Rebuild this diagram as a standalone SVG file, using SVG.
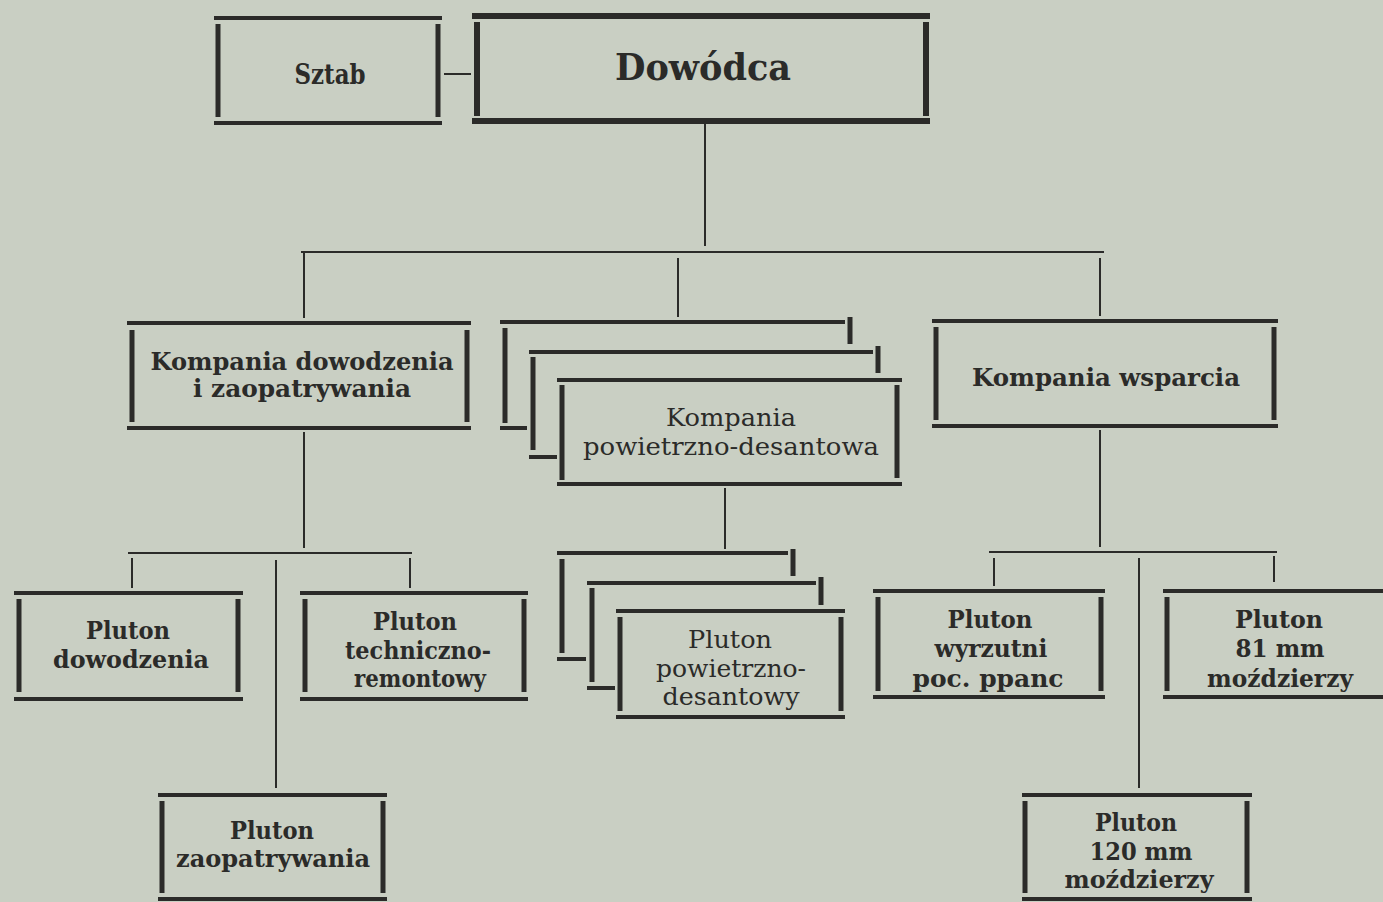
<svg xmlns="http://www.w3.org/2000/svg" width="1383" height="902" viewBox="0 0 1383 902">
<style>
.bg{fill:#c9cfc3}
line{stroke:#2b2b29;stroke-linecap:butt}
.h{stroke-width:4}
.v{stroke-width:5}
.hh{stroke-width:6}
.c{stroke-width:2}
text{font-family:"DejaVu Serif","Liberation Serif",serif;fill:#2b2b29;text-anchor:middle}
.b{font-weight:bold;font-size:24px}
.r{font-weight:normal;font-size:25px}
</style>
<rect class="bg" x="0" y="0" width="1383" height="902"/>
<g id="connectors">
<line class="c" x1="444" y1="74" x2="471" y2="74"/>
<line class="c" x1="705" y1="124" x2="705" y2="246"/>
<line class="c" x1="301" y1="252" x2="1104" y2="252"/>
<line class="c" x1="304" y1="252" x2="304" y2="318"/>
<line class="c" x1="678" y1="258" x2="678" y2="317"/>
<line class="c" x1="1100" y1="258" x2="1100" y2="316"/>
<line class="c" x1="304" y1="432" x2="304" y2="548"/>
<line class="c" x1="128" y1="553" x2="412" y2="553"/>
<line class="c" x1="132" y1="558" x2="132" y2="588"/>
<line class="c" x1="410" y1="558" x2="410" y2="588"/>
<line class="c" x1="276" y1="560" x2="276" y2="788"/>
<line class="c" x1="725" y1="488" x2="725" y2="549"/>
<line class="c" x1="1100" y1="430" x2="1100" y2="547"/>
<line class="c" x1="989" y1="552" x2="1277" y2="552"/>
<line class="c" x1="994" y1="558" x2="994" y2="586"/>
<line class="c" x1="1274" y1="556" x2="1274" y2="582"/>
<line class="c" x1="1139" y1="558" x2="1139" y2="788"/>
</g>
<g id="sztab">
<line class="h" x1="214" y1="18" x2="442" y2="18"/>
<line class="h" x1="214" y1="123" x2="442" y2="123"/>
<line class="v" x1="218" y1="24" x2="218" y2="117"/>
<line class="v" x1="438" y1="24" x2="438" y2="117"/>
<text x="330" y="84" style="font-weight:bold;font-size:27px" textLength="71" lengthAdjust="spacingAndGlyphs">Sztab</text>
</g>
<g id="dowodca">
<line class="hh" x1="472" y1="16" x2="930" y2="16"/>
<line class="hh" x1="472" y1="121" x2="930" y2="121"/>
<line class="hh" x1="477" y1="22" x2="477" y2="116"/>
<line class="hh" x1="926" y1="22" x2="926" y2="116"/>
<text x="703" y="80" style="font-weight:bold;font-size:37px" textLength="176" lengthAdjust="spacingAndGlyphs">Dowódca</text>
</g>
<g id="kompania-dowodzenia">
<line class="h" x1="127" y1="323" x2="471" y2="323"/>
<line class="h" x1="127" y1="428" x2="471" y2="428"/>
<line class="v" x1="132" y1="330" x2="132" y2="422"/>
<line class="v" x1="467" y1="330" x2="467" y2="422"/>
<text class="b" x="302" y="370" textLength="303" lengthAdjust="spacingAndGlyphs">Kompania dowodzenia</text>
<text class="b" x="302" y="397" textLength="218" lengthAdjust="spacingAndGlyphs">i zaopatrywania</text>
</g>
<g id="kompania-pd">
<line class="h" x1="500" y1="322" x2="845" y2="322"/>
<line class="v" x1="850" y1="317" x2="850" y2="344"/>
<line class="v" x1="505" y1="328" x2="505" y2="423"/>
<line class="h" x1="500" y1="428" x2="527" y2="428"/>
<line class="h" x1="529" y1="352" x2="873" y2="352"/>
<line class="v" x1="878" y1="346" x2="878" y2="373"/>
<line class="v" x1="533" y1="357" x2="533" y2="450"/>
<line class="h" x1="529" y1="457" x2="557" y2="457"/>
<line class="h" x1="557" y1="380" x2="902" y2="380"/>
<line class="h" x1="557" y1="484" x2="902" y2="484"/>
<line class="v" x1="562" y1="385" x2="562" y2="480"/>
<line class="v" x1="897" y1="385" x2="897" y2="478"/>
<text class="r" x="731" y="426" textLength="130" lengthAdjust="spacingAndGlyphs">Kompania</text>
<text class="r" x="731" y="455" textLength="296" lengthAdjust="spacingAndGlyphs">powietrzno-desantowa</text>
</g>
<g id="kompania-wsparcia">
<line class="h" x1="932" y1="321" x2="1278" y2="321"/>
<line class="h" x1="932" y1="426" x2="1278" y2="426"/>
<line class="v" x1="936" y1="327" x2="936" y2="420"/>
<line class="v" x1="1274" y1="327" x2="1274" y2="420"/>
<text class="b" x="1106" y="386" textLength="268" lengthAdjust="spacingAndGlyphs">Kompania wsparcia</text>
</g>
<g id="pluton-dowodzenia">
<line class="h" x1="14" y1="593" x2="243" y2="593"/>
<line class="h" x1="14" y1="699" x2="243" y2="699"/>
<line class="v" x1="19" y1="599" x2="19" y2="692"/>
<line class="v" x1="238" y1="599" x2="238" y2="692"/>
<text class="b" x="128" y="639" textLength="84" lengthAdjust="spacingAndGlyphs">Pluton</text>
<text class="b" x="131" y="668" textLength="156" lengthAdjust="spacingAndGlyphs">dowodzenia</text>
</g>
<g id="pluton-techniczno">
<line class="h" x1="300" y1="593" x2="528" y2="593"/>
<line class="h" x1="300" y1="699" x2="528" y2="699"/>
<line class="v" x1="305" y1="599" x2="305" y2="692"/>
<line class="v" x1="524" y1="599" x2="524" y2="692"/>
<text class="b" x="415" y="630" textLength="84" lengthAdjust="spacingAndGlyphs">Pluton</text>
<text class="b" x="418" y="659" textLength="146" lengthAdjust="spacingAndGlyphs">techniczno-</text>
<text class="b" x="420" y="687" textLength="132" lengthAdjust="spacingAndGlyphs">remontowy</text>
</g>
<g id="pluton-zaopatrywania">
<line class="h" x1="158" y1="795" x2="387" y2="795"/>
<line class="h" x1="158" y1="899" x2="387" y2="899"/>
<line class="v" x1="162" y1="801" x2="162" y2="893"/>
<line class="v" x1="383" y1="801" x2="383" y2="893"/>
<text class="b" x="272" y="839" textLength="84" lengthAdjust="spacingAndGlyphs">Pluton</text>
<text class="b" x="273" y="867" textLength="194" lengthAdjust="spacingAndGlyphs">zaopatrywania</text>
</g>
<g id="pluton-pd">
<line class="h" x1="557" y1="553" x2="788" y2="553"/>
<line class="v" x1="793" y1="549" x2="793" y2="576"/>
<line class="v" x1="562" y1="559" x2="562" y2="653"/>
<line class="h" x1="557" y1="659" x2="586" y2="659"/>
<line class="h" x1="587" y1="583" x2="816" y2="583"/>
<line class="v" x1="821" y1="577" x2="821" y2="605"/>
<line class="v" x1="592" y1="588" x2="592" y2="682"/>
<line class="h" x1="587" y1="688" x2="615" y2="688"/>
<line class="h" x1="616" y1="611" x2="845" y2="611"/>
<line class="h" x1="616" y1="717" x2="845" y2="717"/>
<line class="v" x1="620" y1="617" x2="620" y2="711"/>
<line class="v" x1="841" y1="617" x2="841" y2="711"/>
<text class="r" x="730" y="648" textLength="84" lengthAdjust="spacingAndGlyphs">Pluton</text>
<text class="r" x="731" y="677" textLength="150" lengthAdjust="spacingAndGlyphs">powietrzno-</text>
<text class="r" x="731" y="705" textLength="137" lengthAdjust="spacingAndGlyphs">desantowy</text>
</g>
<g id="pluton-wyrzutni">
<line class="h" x1="873" y1="591" x2="1105" y2="591"/>
<line class="h" x1="873" y1="697" x2="1105" y2="697"/>
<line class="v" x1="878" y1="597" x2="878" y2="691"/>
<line class="v" x1="1101" y1="597" x2="1101" y2="691"/>
<text class="b" x="990" y="628" textLength="85" lengthAdjust="spacingAndGlyphs">Pluton</text>
<text class="b" x="991" y="657" textLength="113" lengthAdjust="spacingAndGlyphs">wyrzutni</text>
<text class="b" x="988" y="687" textLength="151" lengthAdjust="spacingAndGlyphs">poc. ppanc</text>
</g>
<g id="pluton-81">
<line class="h" x1="1163" y1="591" x2="1383" y2="591"/>
<line class="h" x1="1163" y1="697" x2="1383" y2="697"/>
<line class="v" x1="1167" y1="597" x2="1167" y2="691"/>
<text class="b" x="1279" y="628" textLength="88" lengthAdjust="spacingAndGlyphs">Pluton</text>
<text class="b" x="1280" y="657" textLength="89" lengthAdjust="spacingAndGlyphs">81 mm</text>
<text class="b" x="1280" y="687" textLength="146" lengthAdjust="spacingAndGlyphs">moździerzy</text>
</g>
<g id="pluton-120">
<line class="h" x1="1022" y1="795" x2="1252" y2="795"/>
<line class="h" x1="1022" y1="899" x2="1252" y2="899"/>
<line class="v" x1="1025" y1="801" x2="1025" y2="893"/>
<line class="v" x1="1247" y1="801" x2="1247" y2="893"/>
<text class="b" x="1136" y="831" textLength="82" lengthAdjust="spacingAndGlyphs">Pluton</text>
<text class="b" x="1141" y="860" textLength="103" lengthAdjust="spacingAndGlyphs">120 mm</text>
<text class="b" x="1139" y="888" textLength="149" lengthAdjust="spacingAndGlyphs">moździerzy</text>
</g>
</svg>
